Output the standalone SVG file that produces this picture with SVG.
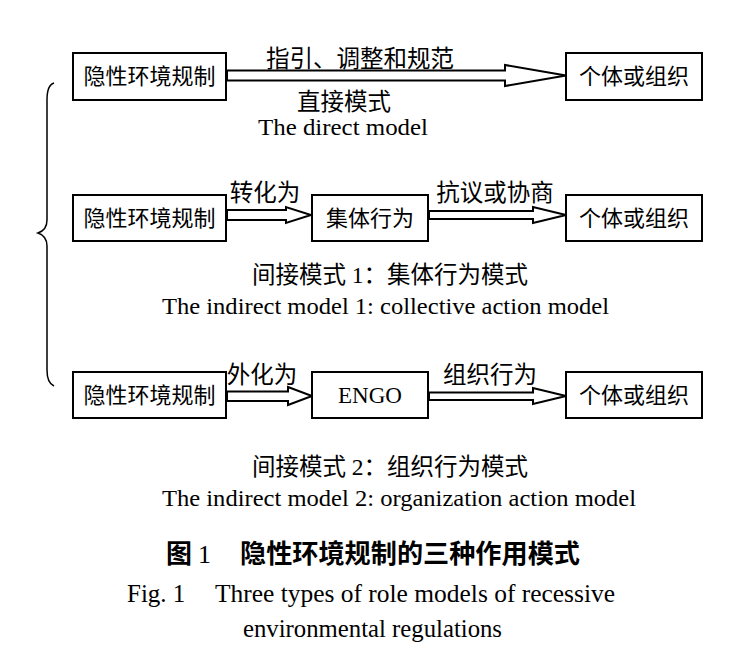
<svg xmlns="http://www.w3.org/2000/svg" width="744" height="647" viewBox="0 0 744 647">
<style>
.box{fill:#fff;stroke:#000;stroke-width:2}
.cn{font-family:"Liberation Serif","Noto Sans CJK SC",serif;font-size:22px;fill:#000}
.lbl{font-family:"Liberation Serif","Noto Sans CJK SC",serif;font-size:23.5px;fill:#000}
.en{font-family:"Liberation Serif",serif;font-size:24px;fill:#000}
.arr{fill:#fff;stroke:#000;stroke-width:2;stroke-linejoin:miter}
.cap{font-family:"Noto Sans CJK SC",sans-serif;font-size:26px;font-weight:bold;fill:#000}
.capen{font-family:"Liberation Serif",serif;font-size:25px;fill:#000}
</style>
<rect width="744" height="647" fill="#fff"/>
<g id="connectors">
<polygon class="arr" points="227,70.5 505,70.5 505,65 566,75.5 505,86 505,80.5 227,80.5"/>
<polygon class="arr" points="227,210 286,210 286,207 311,215 286,223 286,220 227,220"/>
<polygon class="arr" points="429,211 533,211 533,207 566,215 533,223 533,219 429,219"/>
<polygon class="arr" points="227,391.5 288,391.5 288,387 312,396 288,405 288,401 227,401"/>
<polygon class="arr" points="429,392.5 533,392.5 533,388 566,396 533,404 533,400 429,400"/>
</g>
<g id="brace">
<path d="M54,83 Q47,85 47,100 L47,220 Q47,230 38,233 Q47,236 47,246 L47,370 Q47,383 54,386" fill="none" stroke="#000" stroke-width="1.5"/>
</g>
<g id="n1a"><rect class="box" x="73" y="53" width="153" height="47"/><text class="cn" x="149.5" y="84" text-anchor="middle">隐性环境规制</text></g>
<g id="n1b"><rect class="box" x="566" y="53" width="136" height="47"/><text class="cn" x="634" y="84" text-anchor="middle">个体或组织</text></g>
<g id="n2a"><rect class="box" x="73" y="195" width="153" height="46"/><text class="cn" x="149.5" y="226" text-anchor="middle">隐性环境规制</text></g>
<g id="n2b"><rect class="box" x="312" y="195" width="116" height="46"/><text class="cn" x="370" y="226" text-anchor="middle">集体行为</text></g>
<g id="n2c"><rect class="box" x="566" y="195" width="136" height="46"/><text class="cn" x="634" y="226" text-anchor="middle">个体或组织</text></g>
<g id="n3a"><rect class="box" x="73" y="372" width="153" height="46"/><text class="cn" x="149.5" y="403" text-anchor="middle">隐性环境规制</text></g>
<g id="n3b"><rect class="box" x="312" y="372" width="116" height="46"/><text class="en" x="370" y="403" text-anchor="middle" textLength="64" lengthAdjust="spacingAndGlyphs">ENGO</text></g>
<g id="n3c"><rect class="box" x="566" y="372" width="136" height="46"/><text class="cn" x="634" y="403" text-anchor="middle">个体或组织</text></g>
<g id="labels">
<text class="lbl" x="360" y="67" text-anchor="middle">指引、调整和规范</text>
<text class="lbl" x="344" y="110" text-anchor="middle">直接模式</text>
<text class="en" x="258" y="135" textLength="170" lengthAdjust="spacingAndGlyphs">The direct model</text>
<text class="lbl" x="265" y="201" text-anchor="middle">转化为</text>
<text class="lbl" x="495" y="201" text-anchor="middle">抗议或协商</text>
<text class="lbl" x="390" y="283" text-anchor="middle">间接模式 1：集体行为模式</text>
<text class="en" x="162" y="314" textLength="447" lengthAdjust="spacingAndGlyphs">The indirect model 1: collective action model</text>
<text class="lbl" x="262" y="383" text-anchor="middle">外化为</text>
<text class="lbl" x="490" y="383" text-anchor="middle">组织行为</text>
<text class="lbl" x="390" y="475" text-anchor="middle">间接模式 2：组织行为模式</text>
<text class="en" x="162" y="506" textLength="474" lengthAdjust="spacingAndGlyphs">The indirect model 2: organization action model</text>
</g>
<g id="caption">
<text class="cap" x="166" y="563">图 <tspan font-family="Liberation Serif" font-weight="normal">1</tspan></text>
<text class="cap" x="240" y="563" textLength="340" lengthAdjust="spacingAndGlyphs">隐性环境规制的三种作用模式</text>
<text class="capen" x="127" y="602">Fig. 1</text>
<text class="capen" x="215" y="602" textLength="400" lengthAdjust="spacingAndGlyphs">Three types of role models of recessive</text>
<text class="capen" x="243" y="637" textLength="259" lengthAdjust="spacingAndGlyphs">environmental regulations</text>
</g>
</svg>
